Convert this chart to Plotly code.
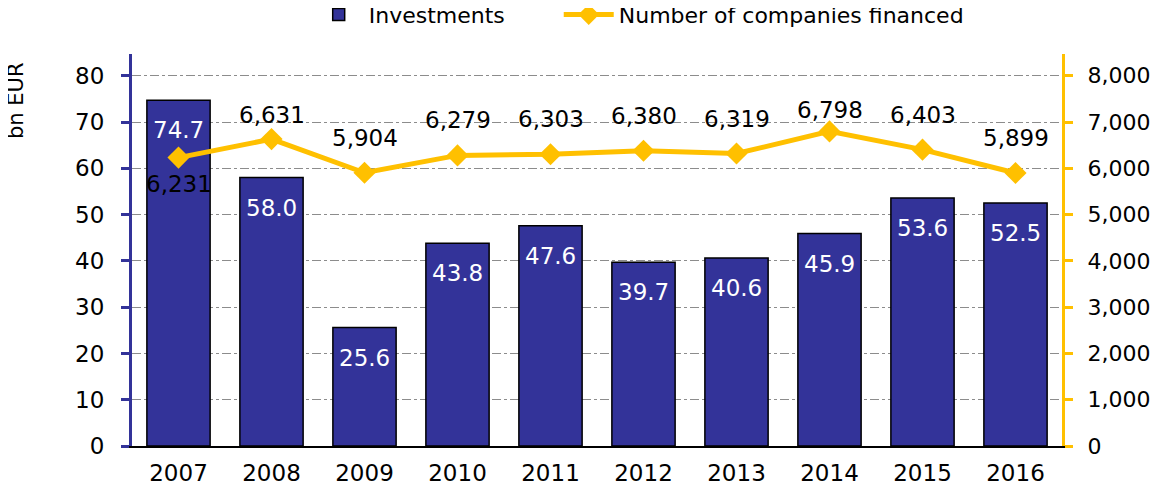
import plotly.graph_objects as go

# chart data
years = ['2007', '2008', '2009', '2010', '2011', '2012', '2013', '2014', '2015', '2016']
investments = [74.7, 58.0, 25.6, 43.8, 47.6, 39.7, 40.6, 45.9, 53.6, 52.5]  # bn EUR
companies = [6231, 6631, 5904, 6279, 6303, 6380, 6319, 6798, 6403, 5899]
left_ticks = [0, 10, 20, 30, 40, 50, 60, 70, 80]
right_ticks = [0, 1000, 2000, 3000, 4000, 5000, 6000, 7000, 8000]

BLUE = '#333399'
GOLD = '#FFC000'
FONT = 'DejaVu Sans'
FS = 23

fig = go.Figure()

# non-breaking spaces keep the wide gap between the two legend entries
fig.add_trace(go.Bar(
    x=years, y=investments, name='Investments' + '\u00a0' * 7,
    marker=dict(color=BLUE, line=dict(color='black', width=1.5)),
    yaxis='y',
))

fig.add_trace(go.Scatter(
    x=years, y=companies, name='Number of companies financed',
    mode='lines+markers',
    line=dict(color=GOLD, width=5),
    marker=dict(symbol='diamond', size=17, color=GOLD),
    yaxis='y2',
))

# labels inside the bars (x given as category index)
for i, v in enumerate(investments):
    fig.add_annotation(x=i, y=v, xref='x', yref='y', text=f'{v:.1f}',
                       showarrow=False, yanchor='middle', yshift=-30,
                       font=dict(color='white', size=FS, family=FONT))

# labels for the line points (a few were nudged by hand in the original)
label_shift = {'2007': -26, '2008': 24, '2014': 21}
for i, (yr, v) in enumerate(zip(years, companies)):
    fig.add_annotation(x=i, y=v, xref='x', yref='y2', text=f'{v:,}',
                       showarrow=False, yanchor='middle',
                       yshift=label_shift.get(yr, 35),
                       font=dict(color='black', size=FS, family=FONT))

fig.add_annotation(text='bn EUR', xref='paper', yref='paper',
                   x=-0.1247, y=0.88, textangle=-90, showarrow=False,
                   xanchor='center', yanchor='middle',
                   font=dict(size=21, color='black', family=FONT))

# page body has an 8px margin, so the figure is offset by 8px
fig.update_layout(
    width=1145, height=478,
    margin=dict(l=124, r=91, t=46, b=40, autoexpand=False),
    plot_bgcolor='white', paper_bgcolor='white',
    font=dict(family=FONT, size=FS, color='black'),
    bargap=0.32,
    showlegend=True,
    legend=dict(orientation='h', x=0.19, xanchor='left', y=1.1, yanchor='middle',
                font=dict(size=22), itemwidth=50, bgcolor='rgba(0,0,0,0)'),
    xaxis=dict(
        type='category', range=[-0.5, 9.5], showline=True, linecolor='black', linewidth=1.5,
        ticks='', showgrid=False, tickfont=dict(size=FS), ticklabelstandoff=6,
    ),
    yaxis=dict(
        range=[0, 84.7], tickvals=left_ticks, showline=True, linecolor=BLUE, linewidth=3,
        ticks='outside', ticklen=8, tickwidth=3, tickcolor=BLUE,
        showgrid=True, gridcolor='#8c8c8c', gridwidth=1.3, griddash='dashdot',
        zeroline=False, tickfont=dict(size=FS), ticklabelstandoff=12,
    ),
    yaxis2=dict(
        range=[0, 8470], tickvals=right_ticks, tickformat=',', overlaying='y', side='right',
        showline=True, linecolor=GOLD, linewidth=3,
        ticks='outside', ticklen=8, tickwidth=3, tickcolor=GOLD,
        showgrid=False, zeroline=False, tickfont=dict(size=22), ticklabelstandoff=10,
    ),
)

fig.write_html('out.html')
